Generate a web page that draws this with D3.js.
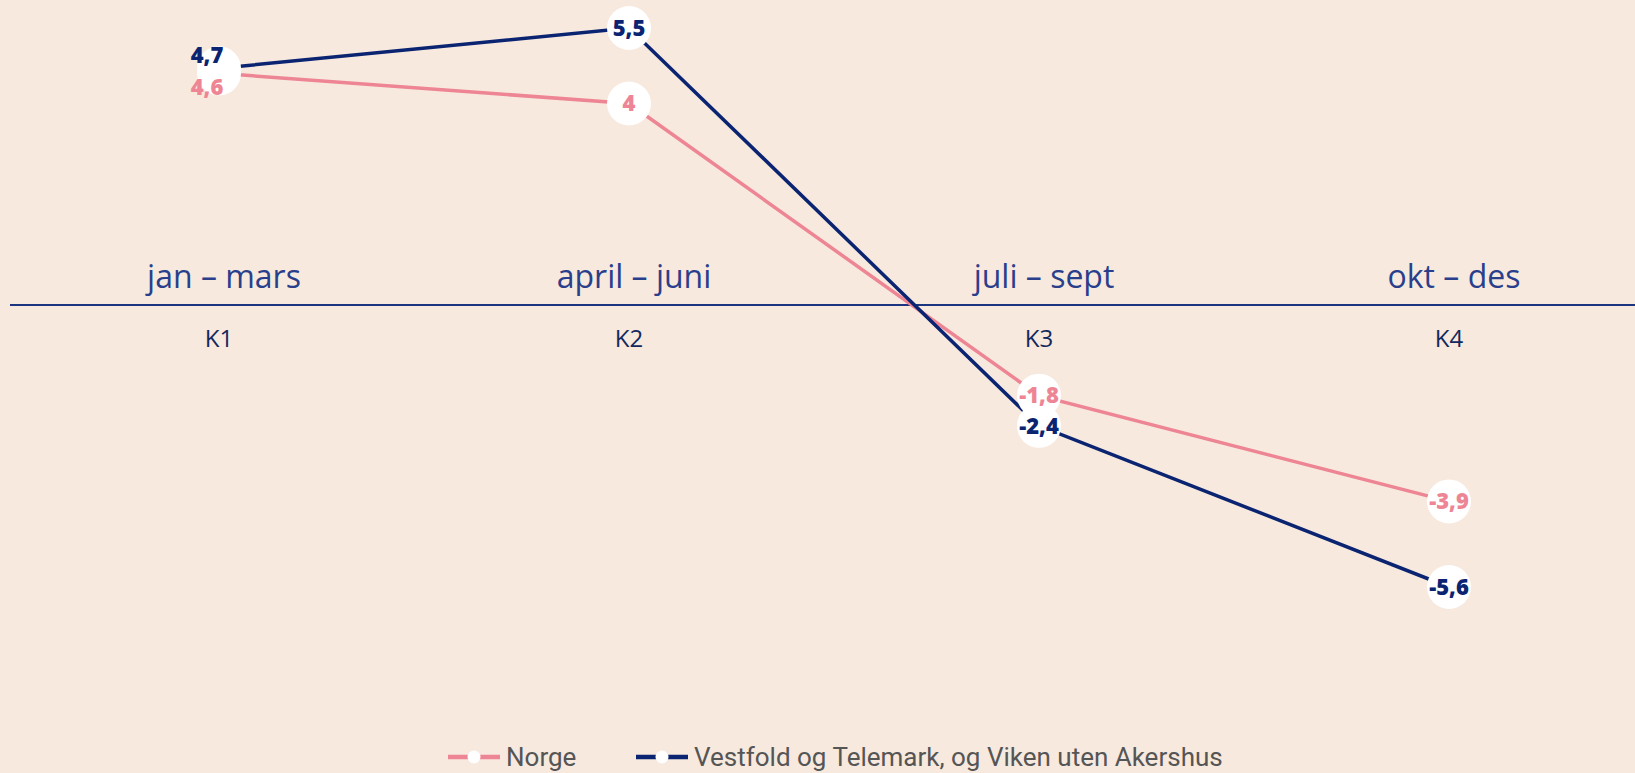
<!DOCTYPE html>
<html>
<head>
<meta charset="utf-8">
<script src="https://cdn.jsdelivr.net/npm/d3@7"></script>
<style>
  html, body { margin: 0; padding: 0; background: #f7e9de; }
  svg { display: block; }
</style>
</head>
<body>
<div id="chart"></div>
<script>
// quarters
var categories = ["K1", "K2", "K3", "K4"]
var periods = ["jan – mars", "april – juni", "juli – sept", "okt – des"]

var norge = [4.6, 4, -1.8, -3.9]
var vestfold = [4.7, 5.5, -2.4, -5.6]

var seriesNames = ["Norge", "Vestfold og Telemark, og Viken uten Akershus"]
var seriesColors = ["#ee8594", "#0b2472"]

var width = 1635
var height = 773

var svg = d3.select("#chart")
    .append("svg")
    .attr("width", width)
    .attr("height", height)

svg.append("rect")
    .attr("width", width)
    .attr("height", height)
    .attr("fill", "#f7e9de")

var x = d3.scalePoint()
    .domain(categories)
    .range([219, 1449])

var y = d3.scaleLinear()
    .domain([-5.6, 5.5])
    .range([587, 28])

// zero line
svg.append("line")
    .attr("x1", 10)
    .attr("x2", width)
    .attr("y1", y(0))
    .attr("y2", y(0))
    .attr("stroke", "#1c3580")
    .attr("stroke-width", 2)

// period labels above zero line
svg.selectAll("text.period")
    .data(periods)
    .enter()
    .append("text")
    .attr("class", "period")
    .attr("x", function (d, i) { return x(categories[i]) + 5 })
    .attr("y", y(0) - 17)
    .attr("text-anchor", "middle")
    .attr("font-family", "Open Sans")
    .attr("font-size", 32)
    .attr("fill", "#2a3f8c")
    .text(function (d) { return d })

// K labels below
svg.selectAll("text.kat")
    .data(categories)
    .enter()
    .append("text")
    .attr("class", "kat")
    .attr("x", function (d) { return x(d) })
    .attr("y", y(0) + 42)
    .attr("text-anchor", "middle")
    .attr("font-family", "Open Sans")
    .attr("font-size", 24)
    .attr("fill", "#13295e")
    .text(function (d) { return d })

var series = [
    { name: seriesNames[0], color: seriesColors[0], values: norge },
    { name: seriesNames[1], color: seriesColors[1], values: vestfold }
]

var line = d3.line()
    .x(function (d, i) { return x(categories[i]) })
    .y(function (d) { return y(d) })

series.forEach(function (s) {
    svg.append("path")
        .datum(s.values)
        .attr("d", line)
        .attr("fill", "none")
        .attr("stroke", s.color)
        .attr("stroke-width", 3.5)
})

series.forEach(function (s) {
    svg.selectAll(null)
        .data(s.values)
        .enter()
        .append("circle")
        .attr("cx", function (d, i) { return x(categories[i]) })
        .attr("cy", function (d) { return y(d) })
        .attr("r", 22)
        .attr("fill", "white")
})

// labels: push apart when two points of a quarter sit too close
function labelPos(si, i) {
    var a = y(series[0].values[i])
    var b = y(series[1].values[i])
    var p = { x: x(categories[i]), y: si == 0 ? a : b }
    if (Math.abs(a - b) < 22) {
        var mid = (a + b) / 2
        var upper = a < b ? 0 : 1
        p.y = si == upper ? mid - 16 : mid + 16
        p.x = p.x - 12
    }
    return p
}

series.forEach(function (s, si) {
    svg.selectAll(null)
        .data(s.values)
        .enter()
        .append("text")
        .attr("x", function (d, i) { return labelPos(si, i).x })
        .attr("y", function (d, i) { return labelPos(si, i).y })
        .attr("dy", "0.35em")
        .attr("text-anchor", "middle")
        .attr("font-family", "Open Sans")
        .attr("font-weight", 800)
        .attr("font-size", 22)
        .attr("fill", s.color)
        .text(function (d) { return String(d).replace(".", ",") })
})

// legend
var legendX = [448, 636]
var legend = svg.selectAll("g.legend")
    .data(series)
    .enter()
    .append("g")
    .attr("class", "legend")
    .attr("transform", function (d, i) { return "translate(" + legendX[i] + "," + 757 + ")" })

legend.append("line")
    .attr("x1", 0)
    .attr("x2", 52)
    .attr("stroke", function (d) { return d.color })
    .attr("stroke-width", 4.5)

legend.append("circle")
    .attr("cx", 26)
    .attr("r", 6.5)
    .attr("fill", "white")

legend.append("text")
    .attr("x", 58)
    .attr("dy", "0.35em")
    .attr("font-family", "Roboto")
    .attr("font-size", 26)
    .attr("fill", "#555555")
    .text(function (d) { return d.name })
</script>
</body>
</html>
